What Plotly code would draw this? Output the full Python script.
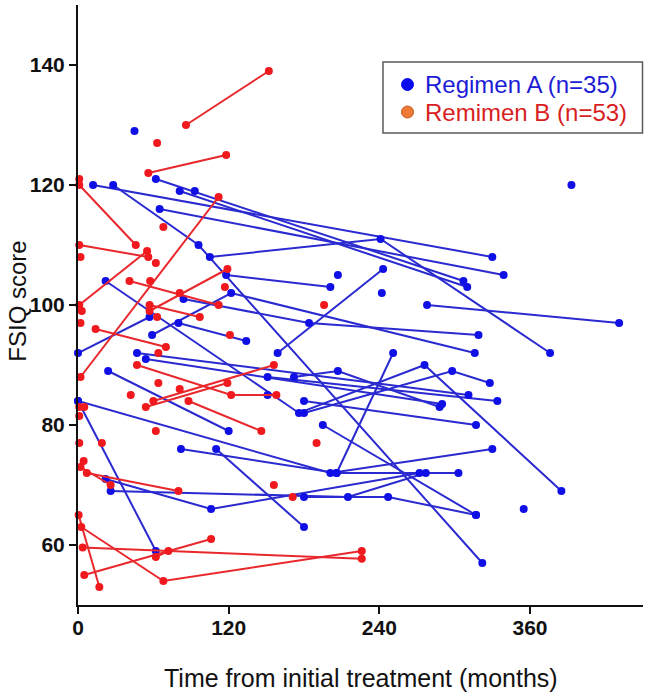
import plotly.graph_objects as go

# ---- data: each patient is a list of (months) and matching FSIQ scores ----
regimen_a_months = [
    [12, 330], [28, 96, 322], [62, 307], [65, 339], [81, 310], [93],
    [105, 241, 376], [118, 201], [0, 57], [59, 122, 316], [84, 184, 319],
    [80, 134], [22, 176, 276, 385], [159, 243], [47, 311], [54, 290],
    [151, 334], [172, 207, 288], [24, 120], [180, 298, 328], [180, 317],
    [195, 317], [0, 62], [0, 201, 330], [82, 206, 303], [206, 251],
    [110, 180], [22, 106, 272], [26, 215, 277], [180, 247, 317],
    [278, 431], [45], [393], [207], [242], [355], [151],
]
regimen_a_fsiq = [
    [120, 108], [120, 110, 57], [121, 104], [116, 105], [119, 103], [119],
    [108, 111, 92], [105, 103], [92, 98], [95, 102, 92], [101, 97, 95],
    [97, 94], [104, 82, 90, 69], [92, 106], [92, 85], [91, 83.5],
    [88, 84], [88, 89, 83], [89, 79], [82, 89, 87], [84, 80],
    [80, 65], [84, 59], [84, 72, 76], [76, 72, 72], [72, 92],
    [76, 63], [71, 66, 72], [69, 68, 72], [68, 68, 65],
    [100, 97], [129], [120], [105], [102], [66], [85],
]

regimen_b_months = [
    [86, 152], [63], [56, 118], [1], [1, 46], [1, 56], [1, 55], [2], [68],
    [62], [2, 112], [41, 112], [57, 119], [57, 97], [57.5], [81], [3],
    [117], [63], [2], [14, 70], [64], [47, 122, 158], [60, 156], [54, 119],
    [88, 146], [64], [42], [81], [62], [1], [5], [1], [1], [19], [4.5],
    [2, 26], [7, 80], [0.5, 17], [2.6, 68, 226], [3.7, 226], [5, 106],
    [62, 72], [156], [171], [190], [196], [121],
]
regimen_b_fsiq = [
    [130, 139], [127], [122, 125], [121], [120, 110], [110, 108], [100, 109],
    [108], [113], [107], [88, 118], [104, 100], [99, 106], [100, 98], [104],
    [102], [99], [103], [98], [97], [96, 93], [92], [90, 85, 85], [84, 90],
    [83, 87], [84, 79], [87], [85], [86], [79], [83], [83], [81.5], [77],
    [77], [74], [73, 70], [72, 69], [65, 53], [63, 54, 59], [59.6, 57.7],
    [55, 61], [58, 59], [70], [68], [77], [100], [95],
]

x_ticks = [0, 120, 240, 360]
y_ticks = [60, 80, 100, 120, 140]
legend_a = "Regimen A (n=35)"
legend_b = "Remimen B (n=53)"


def flatten(months, scores):
    xs, ys = [], []
    for m, s in zip(months, scores):
        xs.extend(m + [None])
        ys.extend(s + [None])
    return xs, ys


ax, ay = flatten(regimen_a_months, regimen_a_fsiq)
bx, by = flatten(regimen_b_months, regimen_b_fsiq)

BLUE_LINE = "#2a2ad0"
BLUE_DOT = "#1010e6"
RED_LINE = "#e8282c"
RED_DOT = "#f01a1e"

fig = go.Figure()
fig.add_trace(go.Scatter(
    x=ax, y=ay, mode="lines+markers", connectgaps=False, cliponaxis=False,
    line=dict(color=BLUE_LINE, width=2), marker=dict(color=BLUE_DOT, size=8),
    name=legend_a, showlegend=False, hoverinfo="x+y"))
fig.add_trace(go.Scatter(
    x=bx, y=by, mode="lines+markers", connectgaps=False, cliponaxis=False,
    line=dict(color=RED_LINE, width=2), marker=dict(color=RED_DOT, size=8),
    name=legend_b, showlegend=False, hoverinfo="x+y"))

# ---- layout geometry (pixels) ----
W, H = 646, 700
L, R, T, B = 78, 3, 5, 95
PW, PH = W - L - R, H - T - B


def px(xp):
    return (xp - L) / PW


def py(yp):
    return (T + PH - yp) / PH


shapes = [
    # legend frame
    dict(type="rect", xref="paper", yref="paper",
         x0=px(383), x1=px(642.5), y0=py(133), y1=py(62),
         line=dict(color="#5a5a5a", width=1.5), fillcolor="white", layer="above"),
    # legend swatches
    dict(type="circle", xref="paper", yref="paper",
         x0=px(401.5), x1=px(413.5), y0=py(90.5), y1=py(78.5),
         line=dict(color="#0a0aee", width=1), fillcolor="#0a0aee", layer="above"),
    dict(type="circle", xref="paper", yref="paper",
         x0=px(401.5), x1=px(413.5), y0=py(118), y1=py(106),
         line=dict(color="#c05a20", width=1), fillcolor="#ee7a35", layer="above"),
]

legend_font = "Liberation Sans, Arial, sans-serif"
axis_font = dict(family=legend_font, size=21, color="#111")

fig.update_layout(
    width=W, height=H,
    margin=dict(l=L, r=R, t=T, b=B),
    paper_bgcolor="white", plot_bgcolor="white",
    font=dict(family=legend_font, color="#111"),
    showlegend=False,
    xaxis=dict(range=[0, 450], tickvals=x_ticks, ticktext=[f"<b>{t}</b>" for t in x_ticks],
               showline=True, linecolor="#111", linewidth=2, ticks="outside",
               ticklen=7, tickwidth=2, tickcolor="#111", showgrid=False,
               zeroline=False, tickfont=axis_font, ticklabelstandoff=-4),
    yaxis=dict(range=[50, 150], tickvals=y_ticks, ticktext=[f"<b>{t}</b>" for t in y_ticks],
               showline=True, linecolor="#111", linewidth=2, ticks="outside",
               ticklen=7, tickwidth=2, tickcolor="#111", showgrid=False,
               zeroline=False, tickfont=axis_font),
    shapes=shapes,
    annotations=[
        dict(text=legend_a, xref="paper", yref="paper", x=px(423), y=py(84.5),
             xanchor="left", yanchor="middle", showarrow=False,
             font=dict(family=legend_font, size=24, color="#1c1cd6")),
        dict(text=legend_b, xref="paper", yref="paper", x=px(423), y=py(112),
             xanchor="left", yanchor="middle", showarrow=False,
             font=dict(family=legend_font, size=24, color="#d81e22")),
        dict(text="Time from initial treatment (months)", xref="paper", yref="paper",
             x=0.5, y=py(678), xanchor="center", yanchor="middle", showarrow=False,
             font=dict(size=25, color="#111")),
        dict(text="FSIQ score", xref="paper", yref="paper", textangle=-90,
             x=px(16.7), y=py(301), xanchor="center", yanchor="middle", showarrow=False,
             font=dict(size=24, color="#111")),
    ],
)

fig.write_html("out.html")
